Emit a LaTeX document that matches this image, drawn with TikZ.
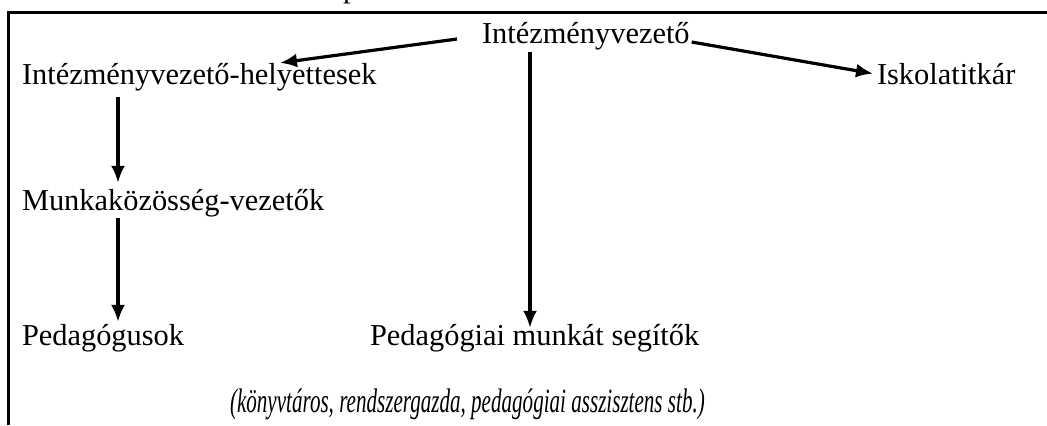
\documentclass[tikz,border=0pt]{standalone}
\usepackage{fontspec}
\usepackage{graphicx}
\setmainfont{Liberation Serif}
\usetikzlibrary{arrows.meta,calc}
\begin{document}
\begin{tikzpicture}[x=0.5pt,y=-0.5pt,
  lbl/.style={anchor=base west, inner sep=0pt, outer sep=0pt, font=\fontsize{15.2}{18}\selectfont},
  arr/.style={line width=1.6pt, -{Latex[length=8.5pt,width=7pt]}},
  frame/.style={line width=1.5pt}
]
\useasboundingbox (0,0) rectangle (1047,425);
\begin{scope}
  \clip (0,0) rectangle (1047,11);
  \node[lbl] (frag) at (343,-3) {p};
\end{scope}
\draw[frame] (8,425) -- (8,12) -- (1047,12);

\node[lbl] (iv)  at (482,43)  {Intézményvezető};
\node[lbl] (ivh) at (22,84)   {Intézményvezető-helyettesek};
\node[lbl] (isk) at (877,84)  {Iskolatitkár};
\node[lbl] (mv)  at (22,210)  {Munkaközösség-vezetők};
\node[lbl] (ped) at (22,345)  {Pedagógusok};
\node[lbl] (pms) at (370,345) {Pedagógiai munkát segítők};
\node[lbl] (note) at (230,412) {\scalebox{0.62}[1]{\fontsize{17}{20}\selectfont\itshape (könyvtáros, rendszergazda, pedagógiai asszisztens stb.)}};

\draw[arr] ($(iv.base west)+(-25,-4)$) -- ($(ivh.north west)+(258,0)$);
\draw[arr] ($(iv.base east)+(2,-1)$) -- ($(isk.west)+(-4,0)$);
\draw[arr] ($(iv.south west)+(48,2)$) -- ($(pms.north west)+(160,4)$);
\draw[arr] ($(ivh.south west)+(96,6)$) -- ($(mv.north west)+(96,-6)$);
\draw[arr] ($(mv.south west)+(96,1)$) -- ($(ped.north west)+(96,-2)$);
\end{tikzpicture}
\end{document}
